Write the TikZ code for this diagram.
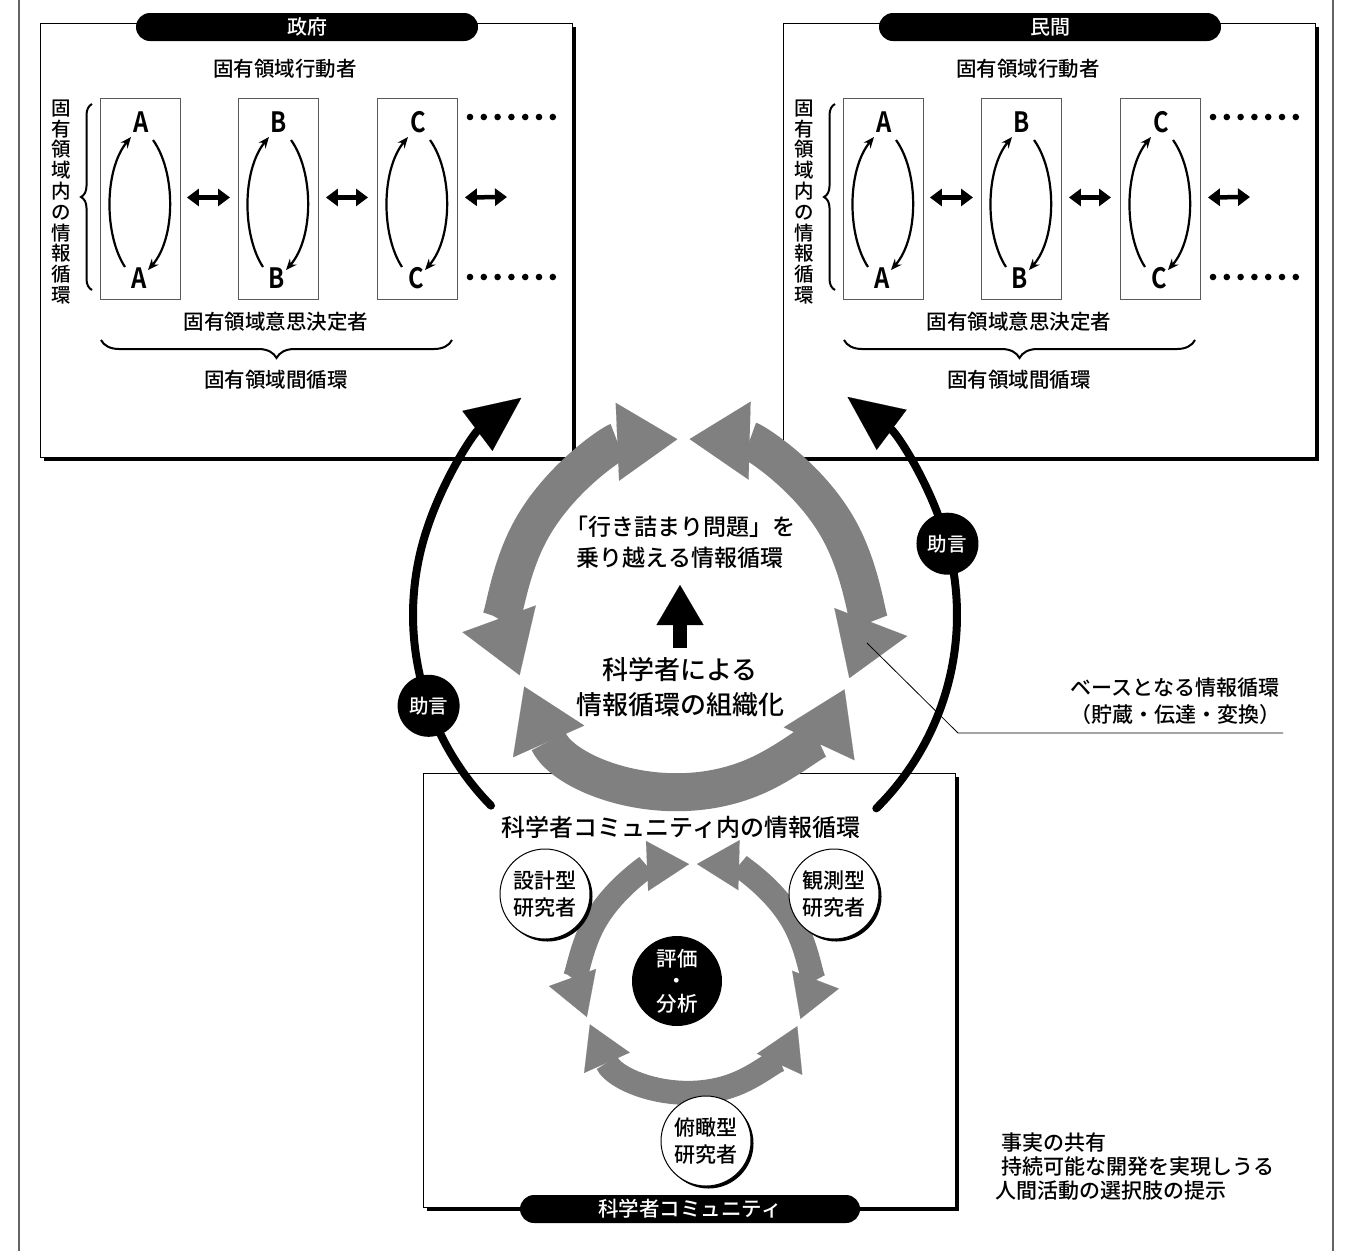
\documentclass[tikz,border=0pt]{standalone}
\usepackage{fontspec}
\setmainfont{Noto Sans CJK JP Medium}[BoldFont={Noto Sans CJK JP Bold}]
\usetikzlibrary{arrows.meta,decorations.pathreplacing,calc,shadows}
\definecolor{ringgray}{RGB}{128,128,128}
\definecolor{rulegray}{RGB}{100,100,100}
\definecolor{boxgray}{RGB}{90,90,90}
\newcommand{\fsz}[2]{\fontsize{#1pt}{#2pt}\selectfont}
\newcommand{\abc}[1]{\scalebox{0.85}[1]{\bfseries #1}}
\begin{document}
\begin{tikzpicture}[x=1pt,y=-1pt,
  txt/.style={inner sep=0pt, align=center},
  panel/.style={draw=black, line width=1.2pt, fill=white, minimum width=532pt, minimum height=434pt,
     anchor=north west, inner sep=0pt,
     drop shadow={shadow xshift=3pt, shadow yshift=-3pt, fill=black, opacity=1}},
  pill/.style={fill=black, text=white, rounded corners=14pt, minimum height=28pt, inner sep=0pt, font=\fsz{20}{22}},
  innerbox/.style={draw=boxgray, line width=0.9pt, minimum width=80pt, minimum height=201pt, anchor=north west, inner sep=0pt},
  letter/.style={inner sep=0pt, font=\fsz{28}{30}},
  loopline/.style={line width=2.2pt, -{Stealth[length=11pt,width=9pt]}},
  dbl/.style={line width=4.5pt, {Triangle[length=12pt,width=17pt]}-{Triangle[length=12pt,width=17pt]}},
  curlybrace/.style={decorate, decoration={brace, amplitude=#1}, line width=2pt},
  bigband/.style={draw=ringgray, line width=38pt,
     {Triangle[width=78pt,length=60pt,line width=0.1pt]}-{Triangle[width=78pt,length=60pt,line width=0.1pt]}},
  smallband/.style={draw=ringgray, line width=24pt,
     {Triangle[width=50pt,length=42pt,line width=0.1pt]}-{Triangle[width=50pt,length=42pt,line width=0.1pt]}},
  advice/.style={line width=8pt, line cap=round, -{Triangle[width=50pt,length=55pt,line width=0.1pt]}},
  advnode/.style={circle, fill=black, text=white, minimum size=62pt, inner sep=0pt, font=\fsz{19.5}{22}},
  person/.style={circle, draw=black, line width=1pt, fill=white, minimum size=90pt, inner sep=0pt,
     align=center, font=\fsz{21}{27},
     drop shadow={shadow xshift=2.5pt, shadow yshift=-2.5pt, fill=black, opacity=1}},
]
\useasboundingbox (0,0) rectangle (1348,1251);
\fill[white] (0,0) rectangle (1348,1251);

% outer page rules
\coordinate (frameLt) at (19,0);
\coordinate (frameLb) at (19,1251);
\coordinate (frameRt) at (1333,0);
\coordinate (frameRb) at (1333,1251);
\draw[rulegray, line width=2pt] (frameLt) -- (frameLb);
\draw[rulegray, line width=1.5pt] (frameRt) -- (frameRb);

% the two domain panels: government and private sector
\foreach \o/\t/\s in {0/政府/g,743/民間/m}{
\begin{scope}[xshift=\o pt]
  \node[panel] (panel\s) at (40,23) {};
  \node[pill, minimum width=342pt] (title\s) at (307,27) {\t};
  \node[txt, font=\fsz{20.5}{24}] (actor\s) at (285,69) {固有領域行動者};
  \node[txt, font=\fsz{19.5}{20.8}] (intra\s) at (61,202) {固\\有\\領\\域\\内\\の\\情\\報\\循\\環};
  \draw[curlybrace=11pt] (92,290) -- (92,104);
  \foreach \bx/\L/\i in {100/A/1,238/B/2,377/C/3}{
    \node[innerbox] (box\s\i) at (\bx,98) {};
    \node[letter] (top\s\i) at (\bx+41,122) {\abc{\L}};
    \node[letter] (bot\s\i) at (\bx+39,278) {\abc{\L}};
    \coordinate (la\s\i) at (\bx+25,267);
    \coordinate (lb\s\i) at (\bx+31,137);
    \coordinate (ra\s\i) at (\bx+53,140);
    \coordinate (rb\s\i) at (\bx+48,270);
    \draw[loopline] (la\s\i) .. controls +(-21,-32) and +(-27,33) .. (lb\s\i);
    \draw[loopline] (ra\s\i) .. controls +(23,32) and +(28,-32) .. (rb\s\i);
  }
  \coordinate (endarr\s) at (507,197);
  \draw[dbl] ([xshift=6pt,yshift=1.5pt]box\s1.east) -- ([xshift=-8pt,yshift=1.5pt]box\s2.west);
  \draw[dbl] ([xshift=7pt,yshift=1.5pt]box\s2.east) -- ([xshift=-9pt,yshift=1.5pt]box\s3.west);
  \draw[dbl] ([xshift=7pt,yshift=1.5pt]box\s3.east) -- (endarr\s);
  \foreach \k in {0,...,6}{
    \fill (470+13.8*\k,117) circle (3.3);
    \fill (470+13.8*\k,277) circle (3.3);
  }
  \node[txt, font=\fsz{20.5}{24}] (decider\s) at (276,322) {固有領域意思決定者};
  \draw[curlybrace=18pt] (452,340) -- (101,340);
  \node[txt, font=\fsz{20.5}{24}] (inter\s) at (276,380) {固有領域間循環};
\end{scope}
}

% scientific community box
\node[panel] (comm) at (423,773) {};
\node[pill, minimum width=340pt, font=\fsz{20.5}{24}] (commtitle) at (690,1209) {科学者コミュニティ};

% large grey cycle
\coordinate (bigc) at (685,615);
\draw[bigband] ($(bigc)+(-92.5:176)$) arc[start angle=-92.5, end angle=-200, radius=176];
\draw[bigband] ($(bigc)+(-88.5:176)$) arc[start angle=-88.5, end angle=21, radius=176];
\draw[bigband] ($(bigc)+(-204:176)$) arc[start angle=-204, end angle=-335, radius=176];

% small grey cycle inside the community
\coordinate (smallc) at (694,978);
\draw[smallband] ($(smallc)+(-92.5:114)$) arc[start angle=-92.5, end angle=-200, radius=114];
\draw[smallband] ($(smallc)+(-88.5:114)$) arc[start angle=-88.5, end angle=21, radius=114];
\draw[smallband] ($(smallc)+(-204:114)$) arc[start angle=-204, end angle=-335, radius=114];

% advice arrows
\coordinate (advLstart) at ($(bigc)+(-224.5:272)$);
\coordinate (advRstart) at ($(bigc)+(45.3:272)$);
\draw[advice] (advLstart) arc[start angle=-224.5, end angle=-127, radius=272];
\draw[advice] (advRstart) arc[start angle=45.3, end angle=-53.3, radius=272];
\node[advnode] (advL) at ($(bigc)+(-199.5:272)$) {助言};
\node[advnode] (advR) at ($(bigc)+(-15.2:272)$) {助言};

% centre of the large cycle
\node[txt, font=\fsz{23}{31}] (overcome) at (680,542) {「行き詰まり問題」を\\乗り越える情報循環};
\node[txt, font=\fsz{26}{35}] (organize) at (680,687) {科学者による\\情報循環の組織化};
\coordinate (upfrom) at (680,648);
\coordinate (upto) at (680,585);
\draw[line width=14pt, -{Triangle[width=47pt,length=40pt,line width=0.1pt]}] (upfrom) -- (upto);

% community contents
\node[txt, font=\fsz{24}{28}] (commloop) at (681,827) {科学者コミュニティ内の情報循環};
\node[person] (design) at (545,894) {設計型\\研究者};
\node[person] (observe) at (834,894) {観測型\\研究者};
\node[person] (overview) at (706,1141) {俯瞰型\\研究者};
\node[circle, fill=black, text=white, minimum size=90pt, inner sep=0pt, align=center,
      font=\fsz{20.5}{22.5}] (evalc) at (677,981) {評価\\・\\分析};

% note on the base cycle
\coordinate (leadA) at (867,643);
\coordinate (leadB) at (958,733);
\coordinate (leadC) at (1283,733);
\draw[line width=0.8pt] (leadA) -- (leadB) -- (leadC);
\node[txt, font=\fsz{21}{27}] (basenote) at (1175,701) {ベースとなる情報循環\\（貯蔵・伝達・変換）};

% outcomes
\node[txt, anchor=west, font=\fsz{21}{24}] (fact1) at (1001,1143) {事実の共有};
\node[txt, anchor=west, font=\fsz{21}{24}] (fact2) at (1001,1167) {持続可能な開発を実現しうる};
\node[txt, anchor=west, font=\fsz{21}{24}] (fact3) at (995,1191) {人間活動の選択肢の提示};
\end{tikzpicture}
\end{document}
